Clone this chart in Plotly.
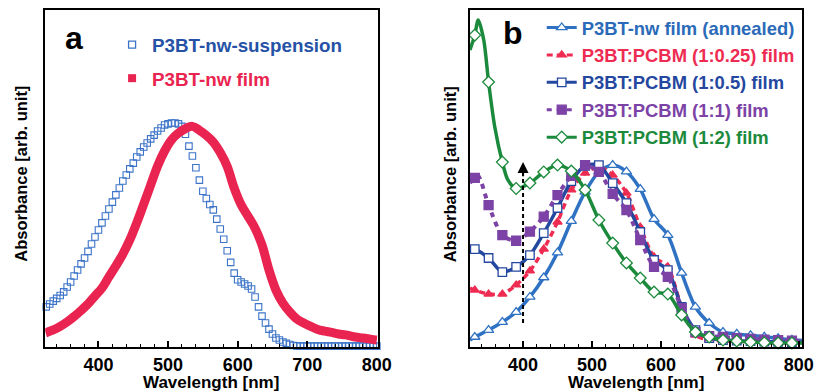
import plotly.graph_objects as go

# ---------------- Panel a data ----------------
wl_susp = list(range(325, 801, 5))
abs_susp = [0.179, 0.192, 0.205, 0.217, 0.230, 0.246, 0.268, 0.290, 0.317, 0.344,
            0.371, 0.397, 0.427, 0.460, 0.491, 0.522, 0.554, 0.585, 0.616, 0.647,
            0.679, 0.710, 0.741, 0.768, 0.795, 0.821, 0.848, 0.871, 0.893, 0.911,
            0.929, 0.946, 0.964, 0.978, 0.991, 0.996, 1.000, 1.000, 0.996, 0.985,
            0.950, 0.897, 0.853, 0.800, 0.745, 0.695, 0.663, 0.636, 0.612, 0.571,
            0.527, 0.481, 0.430, 0.378, 0.330, 0.300, 0.290, 0.281, 0.272, 0.259,
            0.223, 0.179, 0.138, 0.107, 0.080, 0.058, 0.040, 0.031, 0.022, 0.016,
            0.011, 0.007, 0.005,
            0.004, 0.004, 0.004, 0.004, 0.004, 0.004, 0.004, 0.004, 0.004, 0.004,
            0.004, 0.004, 0.004, 0.004, 0.004, 0.004, 0.004, 0.004, 0.004, 0.004,
            0.004, 0.004, 0.004]

wl_film = [324, 335, 345, 355, 365, 375, 385, 395, 405, 415, 425, 435, 445, 455, 465,
           475, 485, 495, 505, 515, 525, 535, 545, 555, 565, 575, 585, 595, 605, 615,
           625, 635, 645, 655, 665, 675, 685, 695, 705, 715, 725, 735, 745, 755, 765,
           775, 785, 795, 800]
abs_film = [0.063, 0.076, 0.092, 0.112, 0.136, 0.163, 0.192, 0.228, 0.263, 0.313,
            0.362, 0.415, 0.478, 0.554, 0.638, 0.723, 0.808, 0.875, 0.925, 0.955,
            0.975, 0.985, 0.968, 0.945, 0.915, 0.868, 0.806, 0.710, 0.635, 0.583,
            0.530, 0.455, 0.344, 0.254, 0.196, 0.156, 0.125, 0.107, 0.092, 0.078,
            0.071, 0.065, 0.058, 0.054, 0.047, 0.042, 0.038, 0.033, 0.031]

# ---------------- Panel b data ----------------
wl_b = [323, 330, 350, 370, 390, 410, 430, 450, 470, 490, 510, 530, 550, 570, 590,
        610, 630, 650, 670, 690, 710, 730, 750, 770, 790, 805]
abs_annealed = [0.038, 0.055, 0.093, 0.137, 0.192, 0.275, 0.382, 0.519, 0.692, 0.852,
                0.962, 1.000, 0.964, 0.868, 0.703, 0.615, 0.407, 0.220, 0.132, 0.082,
                0.072, 0.064, 0.056, 0.048, 0.040, 0.036]
abs_025 = [0.324, 0.313, 0.291, 0.291, 0.341, 0.418, 0.538, 0.687, 0.863, 0.956,
           0.989, 0.945, 0.846, 0.659, 0.495, 0.440, 0.220, 0.066, 0.038, 0.033,
           0.031, 0.030, 0.028, 0.027, 0.026, 0.025]
abs_05 = [0.544, 0.538, 0.489, 0.412, 0.440, 0.505, 0.626, 0.764, 0.912, 0.995,
          1.000, 0.901, 0.791, 0.632, 0.478, 0.423, 0.220, 0.093, 0.049, 0.038,
          0.035, 0.032, 0.030, 0.028, 0.026, 0.025]
wl_11 = [323, 330, 335, 350, 370, 390, 410, 430, 450, 470, 490, 510, 530, 550, 570,
         590, 610, 630, 650, 670, 690, 710, 730, 750, 770, 790, 805]
abs_11 = [0.901, 0.929, 0.940, 0.780, 0.615, 0.584, 0.634, 0.716, 0.835, 0.940,
          1.000, 0.962, 0.841, 0.753, 0.588, 0.440, 0.385, 0.214, 0.082, 0.060,
          0.055, 0.049, 0.045, 0.041, 0.038, 0.035, 0.033]
wl_12 = [323, 330, 335, 343, 350, 359, 370, 378, 390, 410, 430, 450, 470, 490, 510,
         530, 550, 570, 590, 610, 630, 650, 670, 690, 710, 730, 750, 770, 790, 805]
abs_12 = [1.632, 1.714, 1.797, 1.687, 1.456, 1.209, 1.016, 0.918, 0.871, 0.901,
          0.962, 1.000, 0.967, 0.863, 0.698, 0.571, 0.462, 0.379, 0.302, 0.291,
          0.176, 0.082, 0.055, 0.038, 0.033, 0.027, 0.024, 0.022, 0.022, 0.022]

labels_a = ["P3BT-nw-suspension", "P3BT-nw film"]
labels_b = ["P3BT-nw film (annealed)", "P3BT:PCBM (1:0.25) film", "P3BT:PCBM (1:0.5) film",
            "P3BT:PCBM (1:1) film", "P3BT:PCBM (1:2) film"]
tick_vals = [400, 500, 600, 700, 800]
arrow_wavelength = 400

# ---------------- styling ----------------
FONT = "Liberation Sans, Arial, Helvetica, sans-serif"
C_SUSP = "#3d74c9"
C_SUSP_TXT = "#2551a6"
C_FILM = "#ea2450"
C_ANN = "#2f72c3"
C_RED = "#ee2c52"
C_DB = "#2447a0"
C_PUR = "#7c42a6"
C_GRN = "#1c8a3c"

W, H = 832, 391


def px_x(p):
    return p / W


def px_y(p):
    return 1 - p / H


fig = go.Figure()

# Panel a traces
fig.add_trace(go.Scatter(x=wl_susp, y=abs_susp, mode="markers", xaxis="x", yaxis="y",
                         marker=dict(symbol="square-open", size=6.5, color=C_SUSP,
                                     line=dict(width=1.1, color=C_SUSP)),
                         showlegend=False, cliponaxis=False))
fig.add_trace(go.Scatter(x=wl_film, y=abs_film, mode="lines", xaxis="x", yaxis="y",
                         line=dict(color=C_FILM, width=9, shape="spline"),
                         showlegend=False, cliponaxis=False))

# Panel b traces
series_b = [
    (wl_b, abs_annealed, C_ANN, C_ANN, "solid", "triangle-up", "white", 9, 3.5),
    (wl_b, abs_025, C_RED, C_RED, "6px,4px", "triangle-up", C_RED, 8, 3.5),
    (wl_b, abs_05, C_DB, C_DB, "solid", "square", "white", 8.5, 3.5),
    (wl_11, abs_11, C_PUR, C_PUR, "5px,5px", "square", C_PUR, 9, 4),
    (wl_12, abs_12, C_GRN, C_GRN, "solid", "diamond", "white", 9, 3.5),
]
txt_cols_b = ["#2a6ab8", C_RED, C_DB, C_PUR, C_GRN]

for wl, ab, lc, mc, dash, sym, fill, msize, lw in series_b:
    fig.add_trace(go.Scatter(x=wl, y=ab, mode="lines", xaxis="x2", yaxis="y2",
                             line=dict(color=lc, width=lw, dash=dash, shape="spline", smoothing=0.8),
                             showlegend=False, cliponaxis=True))
    mx = [w for w in wl if (w - 330) % 20 == 0]
    my = [a for w, a in zip(wl, ab) if (w - 330) % 20 == 0]
    fig.add_trace(go.Scatter(x=mx, y=my, mode="markers", xaxis="x2", yaxis="y2",
                             marker=dict(symbol=sym, size=msize, color=fill,
                                         line=dict(color=mc, width=1.3)),
                             showlegend=False, cliponaxis=False))

# Legend entries (panel a)
fig.add_trace(go.Scatter(x=[None], y=[None], mode="markers", xaxis="x", yaxis="y",
                         marker=dict(symbol="square-open", size=7, color=C_SUSP,
                                     line=dict(width=1.3, color=C_SUSP)),
                         name=f'<span style="color:{C_SUSP_TXT}">{labels_a[0]}</span>',
                         legend="legend", legendgroup="a1"))
fig.add_trace(go.Scatter(x=[None], y=[None], mode="markers", xaxis="x", yaxis="y",
                         marker=dict(symbol="square", size=8, color=C_FILM),
                         name=f'<span style="color:{C_FILM}">{labels_a[1]}</span>',
                         legend="legend", legendgroup="a2"))

# Legend entries (panel b)
for i, ((wl, ab, lc, mc, dash, sym, fill, msize, lw), lab, tc) in enumerate(
        zip(series_b, labels_b, txt_cols_b)):
    fig.add_trace(go.Scatter(x=[None], y=[None], mode="lines+markers", xaxis="x2", yaxis="y2",
                             line=dict(color=lc, width=3, dash=dash),
                             marker=dict(symbol=sym, size=msize, color=fill,
                                         line=dict(color=mc, width=1.3)),
                             name=f'<span style="color:{tc}">{lab}</span>',
                             legend="legend2", legendgroup=f"b{i}"))

xa_common = dict(range=[323.5, 801], showline=True, linecolor="black", linewidth=2,
                 mirror=True, ticks="inside", ticklen=6, tickwidth=1.5, tickcolor="black",
                 tickvals=tick_vals, showgrid=False, zeroline=False,
                 tickfont=dict(family=FONT, size=18, color="black", weight="bold"),
                 minor=dict(ticks="inside", dtick=20, tick0=400, ticklen=3, tickcolor="black",
                            tickwidth=1, showgrid=False))
ya_common = dict(showline=True, linecolor="black", linewidth=2, mirror=True,
                 showticklabels=False, ticks="", showgrid=False, zeroline=False)

y_dom = [px_y(347), px_y(10)]

fig.update_layout(
    width=W, height=H, margin=dict(l=0, r=0, t=0, b=0),
    paper_bgcolor="white", plot_bgcolor="white",
    font=dict(family=FONT, color="black"),
    xaxis=dict(domain=[px_x(46), px_x(384)], anchor="y", **xa_common),
    yaxis=dict(domain=y_dom, anchor="x", range=[0, 1.5045], **ya_common),
    xaxis2=dict(domain=[px_x(478), px_x(816)], anchor="y2", **{**xa_common, "range": [323, 805]}),
    yaxis2=dict(domain=y_dom, anchor="x2", range=[0, 1.852], **ya_common),
    legend=dict(x=px_x(114), y=px_y(26), xanchor="left", yanchor="top",
                bgcolor="rgba(0,0,0,0)", borderwidth=0, tracegroupgap=6,
                itemwidth=30, traceorder="grouped",
                font=dict(family=FONT, size=18.8, weight="bold")),
    legend2=dict(x=px_x(551), y=px_y(9), xanchor="left", yanchor="top",
                 bgcolor="rgba(0,0,0,0)", borderwidth=0, tracegroupgap=0.5,
                 itemwidth=30, traceorder="grouped",
                 font=dict(family=FONT, size=18.4, weight="bold")),
    shapes=[dict(type="line", xref="x2", yref="y2", x0=arrow_wavelength, x1=arrow_wavelength,
                 y0=0.132, y1=0.97, line=dict(color="black", width=2, dash="4px,3px"))],
    annotations=[
        dict(text="<b>a</b>", x=px_x(75), y=px_y(38), xref="paper", yref="paper",
             showarrow=False, font=dict(size=32, family=FONT, color="black"),
             xanchor="center", yanchor="middle"),
        dict(text="<b>b</b>", x=px_x(522), y=px_y(33), xref="paper", yref="paper",
             showarrow=False, font=dict(size=32, family=FONT, color="black"),
             xanchor="center", yanchor="middle"),
        dict(text="<b>Wavelength [nm]</b>", x=px_x(215), y=px_y(382), xref="paper", yref="paper",
             showarrow=False, font=dict(size=17, family=FONT, color="black"),
             xanchor="center", yanchor="middle"),
        dict(text="<b>Wavelength [nm]</b>", x=px_x(647), y=px_y(382), xref="paper", yref="paper",
             showarrow=False, font=dict(size=17, family=FONT, color="black"),
             xanchor="center", yanchor="middle"),
        dict(text="<b>Absorbance [arb. unit]</b>", x=px_x(21), y=px_y(174), xref="paper",
             yref="paper", showarrow=False, textangle=-90,
             font=dict(size=16.5, family=FONT, color="black"), xanchor="center", yanchor="middle"),
        dict(text="<b>Absorbance [arb. unit]</b>", x=px_x(458), y=px_y(174), xref="paper",
             yref="paper", showarrow=False, textangle=-90,
             font=dict(size=16.5, family=FONT, color="black"), xanchor="center", yanchor="middle"),
        dict(text="", x=arrow_wavelength, y=1.016, ax=arrow_wavelength, ay=0.93,
             xref="x2", yref="y2", axref="x2", ayref="y2", showarrow=True,
             arrowhead=2, arrowsize=1.1, arrowwidth=2, arrowcolor="black"),
    ],
)

# Remove the browser's default 8 px body margin so the figure fills the window exactly.
fig.write_html("out.html", config={"displayModeBar": False},
               post_script="document.body.style.margin='0';document.body.style.overflow='hidden';")
